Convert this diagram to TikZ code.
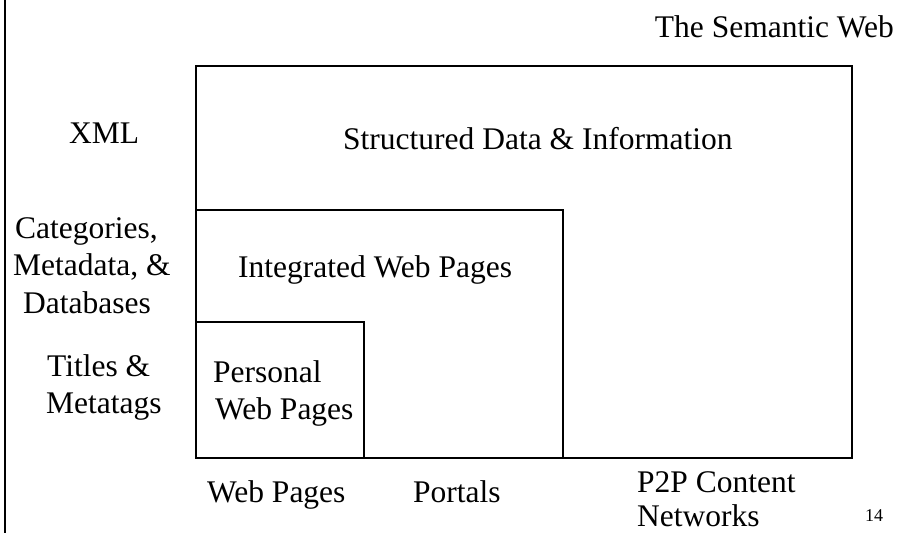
\documentclass[tikz,border=0pt]{standalone}
\usepackage{fontspec}
\setmainfont{Liberation Serif}
\begin{document}
\begin{tikzpicture}[x=1pt,y=-1pt,
  lbl/.style={inner sep=0pt,anchor=base west,font=\fontsize{31.5}{37}\selectfont},
  box/.style={draw=black,line width=1.1pt}]
\useasboundingbox (0,0) rectangle (909,533);
\draw[line width=2.5pt] (5,0) -- (5,533);
% boxes
\draw[box] (196,66) rectangle (852,458);
\draw[box] (196,210) rectangle (563,458);
\draw[box] (196,322) rectangle (364,458);
% labels
\node[lbl,anchor=base east] (sw) at (894,37) {The Semantic Web};
\node[lbl] (xml) at (69,143) {XML};
\node[lbl] (sdi) at (343,149) {Structured Data \& Information};
\node[lbl] (cat1) at (15,238) {Categories,};
\node[lbl] (cat2) at (13,275) {Metadata, \&};
\node[lbl] (cat3) at (23,313) {Databases};
\node[lbl] (tit1) at (47,376) {Titles \&};
\node[lbl] (tit2) at (46,413) {Metatags};
\node[lbl] (iwp) at (238,277) {Integrated Web Pages};
\node[lbl] (pwp1) at (213,382) {Personal};
\node[lbl] (pwp2) at (215,419) {Web Pages};
\node[lbl] (wp) at (207,502) {Web Pages};
\node[lbl] (por) at (413,502) {Portals};
\node[lbl] (p2p1) at (637,492) {P2P Content};
\node[lbl] (p2p2) at (637,526) {Networks};
\node[inner sep=0pt,anchor=base west,font=\fontsize{18}{22}\selectfont] (num) at (865,521) {14};
\end{tikzpicture}
\end{document}
